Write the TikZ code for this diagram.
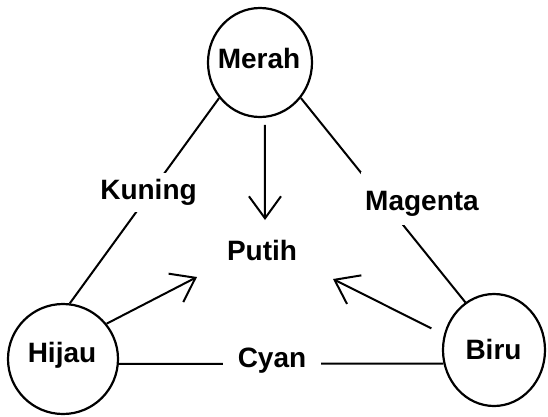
\documentclass[tikz,border=0pt]{standalone}
\usepackage{fontspec}
\setmainfont{Liberation Sans}
\usetikzlibrary{arrows.meta,shapes.geometric}
\begin{document}
\begin{tikzpicture}[x=1pt,y=-1pt,
  blob/.style={draw, ellipse, line width=2.2pt, inner sep=0pt},
  txt/.style={font=\fontsize{28}{32}\selectfont\bfseries, anchor=base, inner sep=0pt},
  lab/.style={txt, fill=white},
  link/.style={line width=2pt},
  arr/.style={line width=2pt, -{Straight Barb[length=22pt,width=32pt]}}]
\useasboundingbox (0,0) rectangle (548,416);
\fill[white] (0,0) rectangle (548,416);
% colour circles
\node[blob, minimum width=104pt, minimum height=109pt] (merah) at (260,62.5) {};
\node[blob, minimum width=110pt, minimum height=110pt] (hijau) at (63,359) {};
\node[blob, minimum width=102pt, minimum height=112pt] (biru) at (494,350) {};
\node[txt] (tmerah) at (259,68) {Merah};
\node[txt] (thijau) at (62,362) {Hijau};
\node[txt] (tbiru) at (493.5,359) {Biru};
\node[txt] (putih) at (262,260) {Putih};
% mixing lines
\draw[link] (merah.221) -- (hijau.83);
\draw[link] (merah.-41) -- (biru.121);
\draw[link] (hijau.-5) -- (biru.195);
% labels covering the lines
\node[lab, inner xsep=3pt, text height=26pt, text depth=13pt] (kuning) at (148.5,199) {Kuning};
\node[lab, inner xsep=4pt, text height=38pt, text depth=15pt] (magenta) at (422,210) {Magenta};
\node[lab, inner xsep=15pt, inner ysep=3pt] (cyan) at (272,367) {Cyan};
% arrows towards white
\coordinate (p1) at (265,220);
\coordinate (p2) at (197,277);
\coordinate (p3) at (333,279);
\draw[arr, shorten <=7pt] (merah.-85) -- (p1);
\draw[arr] (hijau.39) -- (p2);
\draw[arr, shorten <=14pt] (biru.163) -- (p3);
\end{tikzpicture}
\end{document}
